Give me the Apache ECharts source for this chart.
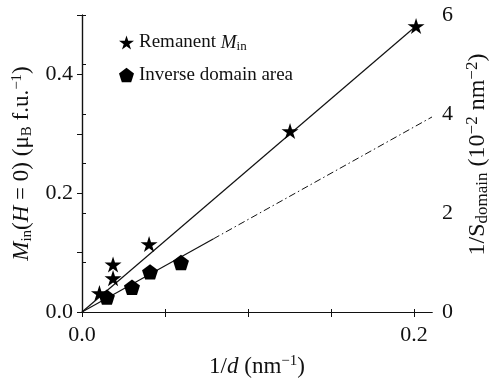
<!DOCTYPE html>
<html>
<head>
<meta charset="utf-8">
<script src="https://cdn.jsdelivr.net/npm/echarts@6/dist/echarts.min.js"></script>
<style>
  html, body { margin: 0; padding: 0; background: #fff; }
  #chart { width: 491px; height: 380px; }
</style>
</head>
<body>
<div id="chart"></div>
<script>
// remanent magnetisation (left axis)
const starX = [0.0105, 0.0187, 0.0187, 0.0404, 0.1253, 0.2012]
const starY = [0.032, 0.057, 0.080, 0.1145, 0.3047, 0.4815]
// inverse domain area (right axis, 10^-2 nm^-2)
const pentX = [0.0150, 0.0301, 0.0410, 0.0596]
const pentY = [0.30, 0.50, 0.81, 1.00]
// fitted lines
const fitStarX = [0, 0.2012]
const fitStarY = [0, 0.4815]
const fitPentX = [0, 0.079]
const fitPentY = [0, 1.475]
const extPentX = [0.079, 0.2108]
const extPentY = [1.475, 3.94]

const xTicks = [0, 0.05, 0.1, 0.15, 0.2]
const xLabels = [0, 0.2]
const yTicks = [0, 0.1, 0.2, 0.3, 0.4, 0.5]
const yLabels = [0, 0.2, 0.4]

const zip = (a, b) => a.map((v, i) => [v, b[i]])

const STAR = 'path://M50,0 L61,35 L98,35 L68,57 L79,91 L50,70 L21,91 L32,57 L2,35 L39,35 Z'
const PENT = 'path://M50,0 L98,36 L80,92 L20,92 L2,36 Z'

const font = 'Liberation Serif'
const ink = '#111'

// rich text pieces for the legend
const richLegend = {
  n: { fontFamily: font, fontSize: 19, color: ink },
  i: { fontFamily: font, fontSize: 19, fontStyle: 'italic', color: ink },
  sub: { fontFamily: font, fontSize: 13, color: ink, verticalAlign: 'bottom', padding: [9, 0, 0, 0] }
}
// rich text pieces for the axis titles (a bit larger)
const mkRich = (size, small) => ({
  n: { fontFamily: font, fontSize: size, color: ink },
  i: { fontFamily: font, fontSize: size, fontStyle: 'italic', color: ink },
  sub: { fontFamily: font, fontSize: small, color: ink, verticalAlign: 'bottom', padding: [10, 0, 0, 0] },
  sup: { fontFamily: font, fontSize: small, color: ink, verticalAlign: 'top', padding: [0, 0, 10, 0] }
})
const richTitle = mkRich(23, 15)
const richRight = mkRich(24, 17)

const axisLine = { show: true, lineStyle: { color: ink, width: 1.2 } }
const tickFont = { fontFamily: font, fontSize: 22, color: ink }

const myChart = echarts.init(document.getElementById('chart'))
myChart.setOption({
  animation: false,
  grid: { left: 82, right: 59, top: 15, bottom: 68, outerBoundsMode: 'none', containLabel: false },
  legend: {
    orient: 'vertical',
    left: 114,
    top: 28,
    itemGap: 12,
    itemWidth: 15,
    itemHeight: 15,
    data: [
      { name: 'Remanent', icon: STAR },
      { name: 'Inverse domain area', icon: PENT }
    ],
    formatter: name => name === 'Remanent' ? '{n|Remanent }{i|M}{sub|in}' : '{n|' + name + '}',
    textStyle: { fontFamily: font, fontSize: 19, color: ink, rich: richLegend }
  },
  xAxis: [
    {
      type: 'value', min: 0, max: 0.2108, position: 'bottom',
      axisLine: axisLine,
      axisTick: { show: true, length: 5, customValues: xTicks, lineStyle: { color: ink } },
      axisLabel: Object.assign({ customValues: xLabels, formatter: v => v.toFixed(1), margin: 12 }, tickFont),
      splitLine: { show: false },
      name: '{n|1/}{i|d}{n| (nm}{sup|−1}{n|)}',
      nameLocation: 'middle', nameGap: 42,
      nameTextStyle: { rich: richTitle }
    },
    {
      type: 'value', min: 0, max: 0.2108, position: 'top',
      axisLine: axisLine,
      axisTick: { show: true, length: 3, customValues: xTicks, lineStyle: { color: ink } },
      axisLabel: { show: false },
      splitLine: { show: false }
    }
  ],
  yAxis: [
    {
      type: 'value', min: 0, max: 0.5, position: 'left',
      axisLine: axisLine,
      axisTick: { show: true, length: 5, customValues: yTicks, lineStyle: { color: ink } },
      axisLabel: Object.assign({ customValues: yLabels, formatter: v => v.toFixed(1), margin: 9 }, tickFont),
      splitLine: { show: false },
      name: '{i|M}{sub|in}{n|(}{i|H}{n| = 0) (μ}{sub|B}{n| f.u.}{sup|−1}{n|)}',
      nameLocation: 'middle', nameGap: 46, nameRotate: 90,
      nameTextStyle: { rich: richTitle }
    },
    {
      type: 'value', min: 0, max: 6, interval: 1, position: 'right',
      axisLine: axisLine,
      axisTick: { show: true, length: 4, lineStyle: { color: ink } },
      axisLabel: Object.assign({ formatter: v => v % 2 === 0 ? String(v) : '', margin: 10 }, tickFont),
      splitLine: { show: false },
      name: '{n|1/S}{sub|domain}{n| (10}{sup|−2}{n| nm}{sup|−2}{n|)}',
      nameLocation: 'middle', nameGap: 23, nameRotate: 90,
      nameTextStyle: { rich: richRight, padding: [0, 0, 0, 18] }
    }
  ],
  series: [
    {
      type: 'line', data: zip(fitStarX, fitStarY), symbol: 'none', silent: true,
      lineStyle: { color: ink, width: 1.2 }, z: 1
    },
    {
      type: 'line', yAxisIndex: 1, data: zip(fitPentX, fitPentY), symbol: 'none', silent: true,
      lineStyle: { color: ink, width: 1.2 }, z: 1
    },
    {
      type: 'line', yAxisIndex: 1, data: zip(extPentX, extPentY), symbol: 'none', silent: true,
      lineStyle: { color: ink, width: 1, type: [7, 3, 1.5, 3] }, z: 1
    },
    {
      name: 'Remanent', type: 'scatter', data: zip(starX, starY),
      symbol: STAR, symbolSize: 17, symbolKeepAspect: true,
      itemStyle: { color: '#000', opacity: 1 }, z: 3
    },
    {
      name: 'Inverse domain area', type: 'scatter', yAxisIndex: 1, data: zip(pentX, pentY),
      symbol: PENT, symbolSize: 16, symbolKeepAspect: true,
      itemStyle: { color: '#000', opacity: 1 }, z: 3
    }
  ]
})
</script>
</body>
</html>
